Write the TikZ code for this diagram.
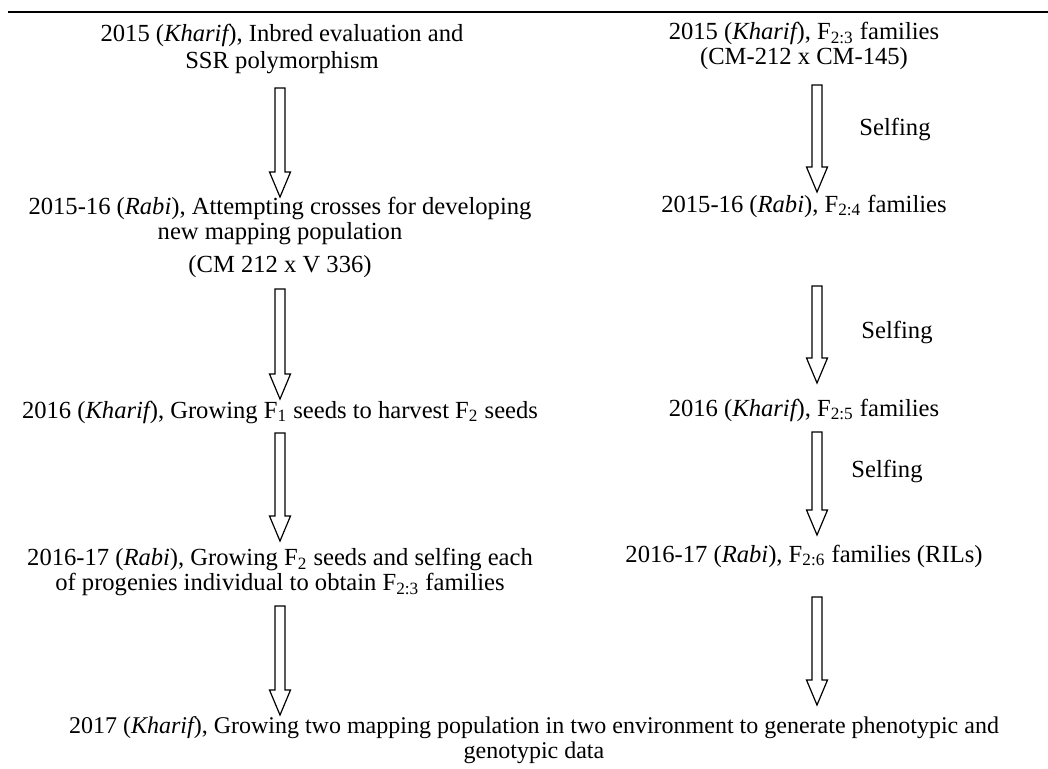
\documentclass[tikz,border=0pt]{standalone}
\usepackage{fontspec}
\setmainfont{Liberation Serif}
\usetikzlibrary{calc}
\newcommand\blockarrow[2]{%
  \draw[blk] ($(#1)+(-5,0)$) -- ($(#2)+(-5,-25)$) -- ($(#2)+(-10.5,-25)$) -- (#2)
    -- ($(#2)+(10.5,-25)$) -- ($(#2)+(5,-25)$) -- ($(#1)+(5,0)$) -- cycle;}
\newcommand\itx[1]{{\itshape #1}}
\begin{document}
\begin{tikzpicture}[x=0.5pt,y=-0.5pt,
  txt/.style={align=center, inner sep=0pt, font=\fontsize{12.3}{12.5}\selectfont},
  btxt/.style={align=center, inner sep=0pt, font=\fontsize{12}{12.2}\selectfont},
  lbl/.style={inner sep=0pt, font=\fontsize{12.3}{12.5}\selectfont},
  blk/.style={draw=black, line width=0.6pt, fill=white, line join=miter},
  rule/.style={line width=1.4pt}]
\useasboundingbox (0,0) rectangle (1048,768);
\coordinate (rl) at (8,12);
\coordinate (rr) at (1048,12);
\draw[rule] (rl) -- (rr);

% left column
\node[txt] (L1) at (282,49) {2015 (\itx{Kharif}), Inbred evaluation and\\[1pt] SSR polymorphism};
\node[txt] (L2) at (280,237) {2015-16 (\itx{Rabi}), Attempting crosses for developing\\ new mapping population\\[4pt] (CM 212 x V 336)};
\node[txt] (L3) at (280,412) {2016 (\itx{Kharif}), Growing F\textsubscript{1} seeds to harvest F\textsubscript{2} seeds};
\node[txt] (L4) at (280,572) {2016-17 (\itx{Rabi}), Growing F\textsubscript{2} seeds and selfing each\\ of progenies individual to obtain F\textsubscript{2:3} families};

% right column
\node[txt] (R1) at (804,46) {2015 (\itx{Kharif}), F\textsubscript{2:3} families\\ (CM-212 x CM-145)};
\node[txt] (R2) at (804,206) {2015-16 (\itx{Rabi}), F\textsubscript{2:4} families};
\node[txt] (R3) at (804,410) {2016 (\itx{Kharif}), F\textsubscript{2:5} families};
\node[txt] (R4) at (804,556) {2016-17 (\itx{Rabi}), F\textsubscript{2:6} families (RILs)};

% bottom
\node[btxt] (B) at (534,740) {2017 (\itx{Kharif}), Growing two mapping population in two environment to generate phenotypic and\\ genotypic data};

% selfing labels
\node[lbl] (S1) at (895,129) {Selfing};
\node[lbl] (S2) at (897,332) {Selfing};
\node[lbl] (S3) at (887,471) {Selfing};

% arrow end points
\coordinate (a1s) at (280,88);  \coordinate (a1e) at (280,197);
\coordinate (a2s) at (280,289); \coordinate (a2e) at (280,399);
\coordinate (a3s) at (280,433); \coordinate (a3e) at (280,541);
\coordinate (a4s) at (280,606); \coordinate (a4e) at (280,715);
\coordinate (b1s) at (817,85);  \coordinate (b1e) at (817,192);
\coordinate (b2s) at (817,286); \coordinate (b2e) at (817,383);
\coordinate (b3s) at (817,432); \coordinate (b3e) at (817,535);
\coordinate (b4s) at (817,597); \coordinate (b4e) at (817,705);

\blockarrow{a1s}{a1e}
\blockarrow{a2s}{a2e}
\blockarrow{a3s}{a3e}
\blockarrow{a4s}{a4e}
\blockarrow{b1s}{b1e}
\blockarrow{b2s}{b2e}
\blockarrow{b3s}{b3e}
\blockarrow{b4s}{b4e}
\end{tikzpicture}
\end{document}
